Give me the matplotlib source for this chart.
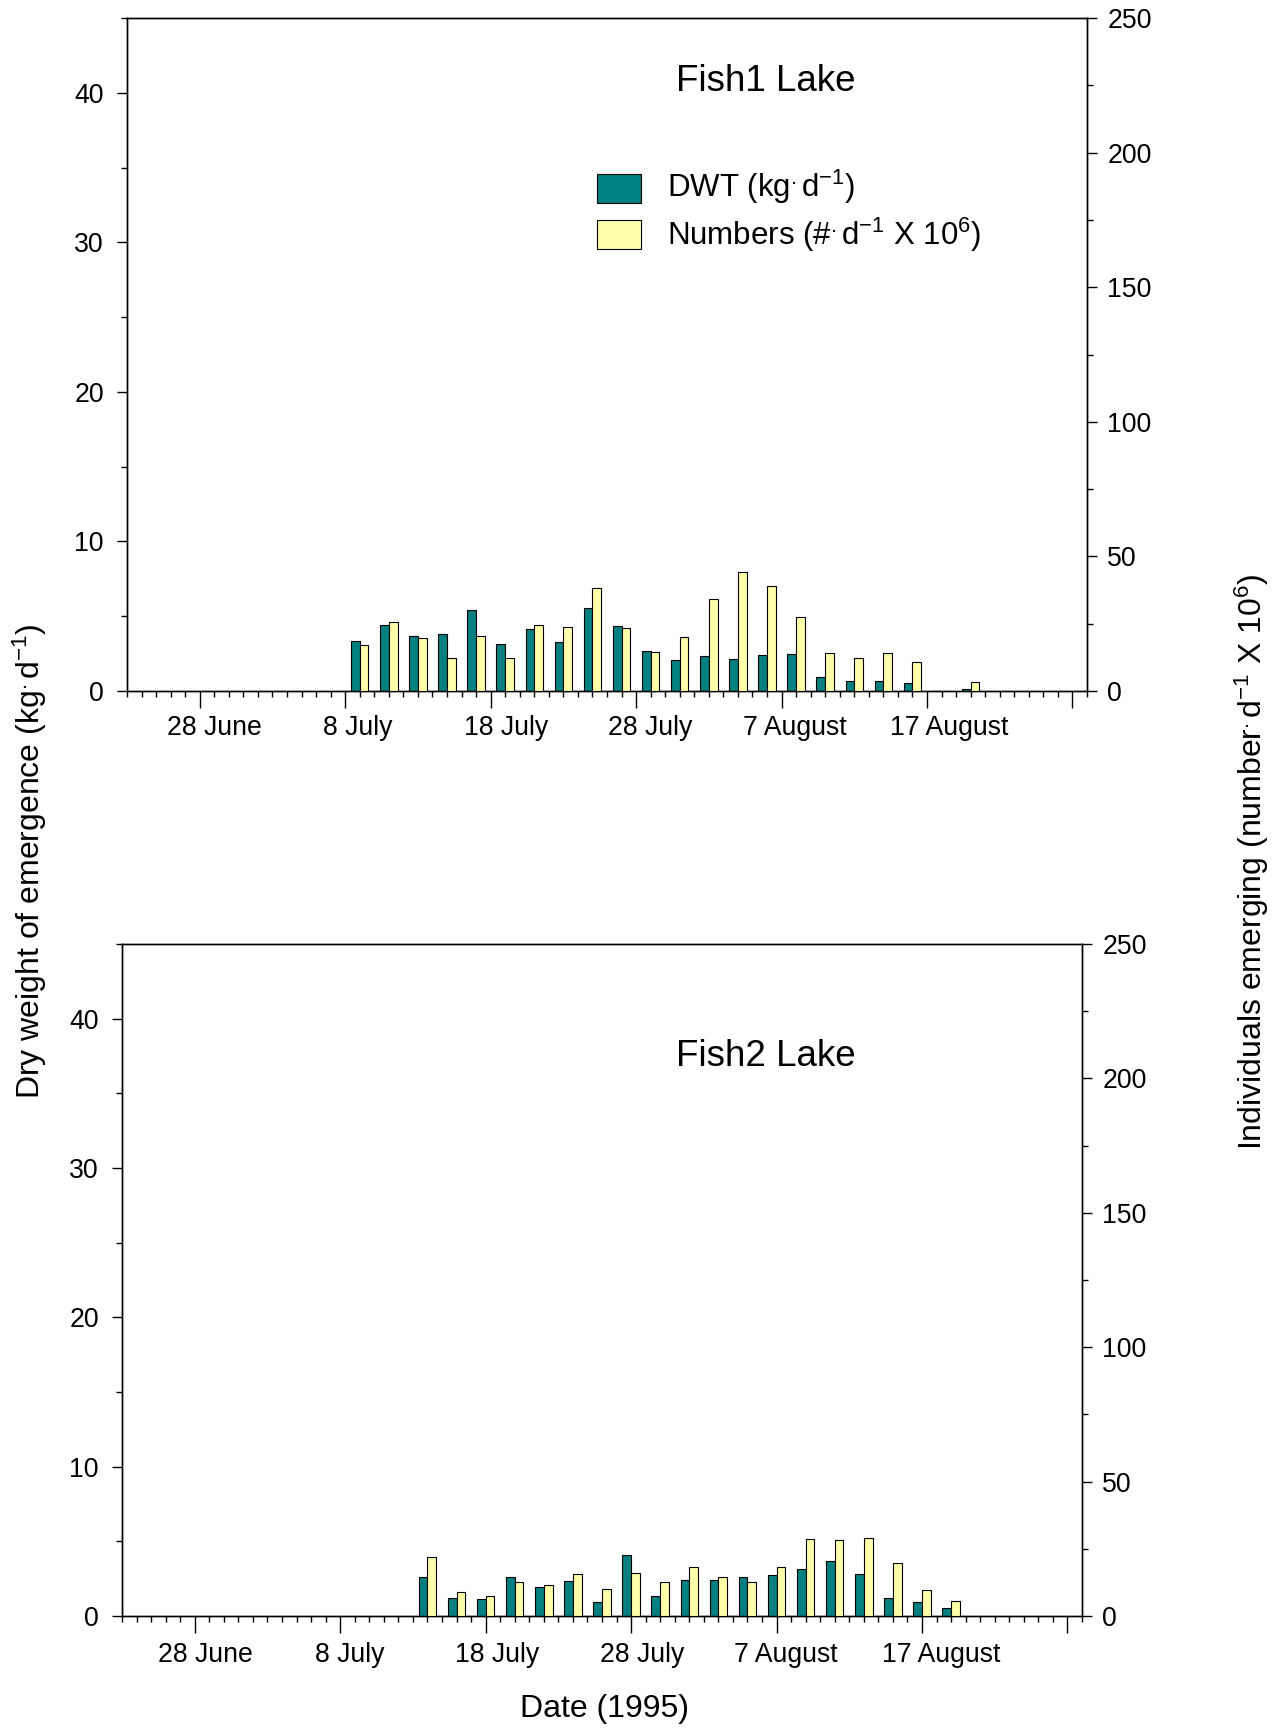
import numpy as np
import pandas as pd
import matplotlib
matplotlib.use("Agg")
import matplotlib.pyplot as plt
import matplotlib.dates as mdates
from matplotlib.ticker import FixedLocator, MultipleLocator
from matplotlib.transforms import ScaledTranslation
from matplotlib.patches import Rectangle

plt.rcParams["font.family"] = ["Liberation Sans", "DejaVu Sans"]
plt.rcParams["mathtext.fontset"] = "custom"
plt.rcParams["mathtext.rm"] = "Liberation Sans"
plt.rcParams["mathtext.it"] = "Liberation Sans:italic"
plt.rcParams["mathtext.bf"] = "Liberation Sans:bold"

# ---- data -------------------------------------------------------------
# Fish1 Lake: emergence traps emptied every second day
fish1_dates = ["1995-07-09", "1995-07-11", "1995-07-13", "1995-07-15", "1995-07-17",
               "1995-07-19", "1995-07-21", "1995-07-23", "1995-07-25", "1995-07-27",
               "1995-07-29", "1995-07-31", "1995-08-02", "1995-08-04", "1995-08-06",
               "1995-08-08", "1995-08-10", "1995-08-12", "1995-08-14", "1995-08-16",
               "1995-08-18", "1995-08-20"]
fish1_dwt = [3.34, 4.41, 3.66, 3.79, 5.40, 3.14, 4.15, 3.28, 5.57, 4.37, 2.68,
             2.10, 2.32, 2.14, 2.41, 2.45, 0.91, 0.65, 0.69, 0.51, 0.0, 0.13]
fish1_numbers = [17.1, 25.6, 19.6, 12.4, 20.3, 12.4, 24.6, 23.9, 38.1, 23.4, 14.6,
                 19.9, 34.1, 44.3, 39.1, 27.5, 14.0, 12.1, 14.0, 10.8, 0.0, 3.5]

# Fish2 Lake
fish2_dates = ["1995-07-14", "1995-07-16", "1995-07-18", "1995-07-20", "1995-07-22",
               "1995-07-24", "1995-07-26", "1995-07-28", "1995-07-30", "1995-08-01",
               "1995-08-03", "1995-08-05", "1995-08-07", "1995-08-09", "1995-08-11",
               "1995-08-13", "1995-08-15", "1995-08-17", "1995-08-19"]
fish2_dwt = [2.61, 1.23, 1.14, 2.61, 1.92, 2.34, 0.92, 4.11, 1.32, 2.41,
             2.41, 2.59, 2.72, 3.13, 3.68, 2.79, 1.21, 0.92, 0.51]
fish2_numbers = [21.8, 9.1, 7.3, 12.8, 11.4, 15.5, 9.9, 15.9, 12.8, 18.2,
                 14.4, 12.8, 18.4, 28.6, 28.1, 28.9, 19.7, 9.5, 5.7]

date_range = ["1995-06-23", "1995-08-28"]
tick_dates = ["1995-06-28", "1995-07-08", "1995-07-18", "1995-07-28",
              "1995-08-07", "1995-08-17", "1995-08-27"]
tick_labels = ["28 June", "8 July", "18 July", "28 July", "7 August", "17 August", ""]

DWT_COLOR = "#008080"
NUM_COLOR = "#FFFFAA"

DOT = r"$^{\mathrm{.}}$"
INV = r"$^{\mathrm{-1}}$"
SIX = r"$^{\mathrm{6}}$"

fig = plt.figure(figsize=(12.85, 17.28), dpi=100)
W, H = 1285, 1728
TICK_FS = 19.2


def to_num(ds):
    return mdates.date2num(pd.to_datetime(ds))


def panel(rect, dates, dwt, nums, title, title_xy, label_shifts_px, xpad):
    ax = fig.add_axes(rect)
    ax2 = ax.twinx()
    x = to_num(dates)
    bw = 0.6
    ax.bar(x - bw / 2, dwt, width=bw, color=DWT_COLOR, edgecolor="black",
           linewidth=0.8, zorder=3)
    ax2.bar(x + bw / 2, nums, width=bw, color=NUM_COLOR, edgecolor="black",
            linewidth=0.8, zorder=3)

    lo, hi = to_num(date_range)
    ax.set_xlim(lo, hi)
    ax.set_ylim(0, 45)
    ax2.set_ylim(0, 250)

    ax.xaxis.set_major_locator(FixedLocator(to_num(tick_dates)))
    ax.set_xticklabels(tick_labels)
    ax.xaxis.set_minor_locator(FixedLocator(np.arange(lo, hi + 0.5, 1.0)))
    ax.yaxis.set_major_locator(MultipleLocator(10))
    ax.yaxis.set_minor_locator(MultipleLocator(5))
    ax2.yaxis.set_major_locator(MultipleLocator(50))
    ax2.yaxis.set_minor_locator(MultipleLocator(25))

    ax.tick_params(axis="y", which="major", direction="out", length=7.2,
                   width=1.0, labelsize=TICK_FS, pad=9.5)
    ax.tick_params(axis="y", which="minor", direction="out", length=4.3, width=1.0)
    ax.tick_params(axis="x", which="major", direction="out", length=12,
                   width=1.0, labelsize=TICK_FS, pad=xpad)
    ax.tick_params(axis="x", which="minor", direction="out", length=4, width=1.0)
    ax2.tick_params(axis="y", which="major", direction="out", length=7.2,
                    width=1.0, labelsize=TICK_FS, pad=7.5)
    ax2.tick_params(axis="y", which="minor", direction="out", length=4.3, width=1.0)

    for a in (ax, ax2):
        for s in a.spines.values():
            s.set_linewidth(1.0)
            s.set_color("black")

    # date labels sit a little to the right of their ticks
    for lab, dx in zip(ax.get_xticklabels(), label_shifts_px):
        lab.set_transform(lab.get_transform()
                          + ScaledTranslation(dx / 100.0, 0, fig.dpi_scale_trans))

    ax.text(title_xy[0], title_xy[1], title, transform=ax.transAxes,
            ha="center", va="center", fontsize=26.5)
    return ax, ax2


ax_top, _ = panel([127 / W, 1 - 691 / H, 960 / W, 673 / H],
                  fish1_dates, fish1_dwt, fish1_numbers,
                  "Fish1 Lake", (0.6656, 0.9057),
                  [15, 13, 15, 14.5, 13, 22, 0], 5.0)
ax_bot, _ = panel([122 / W, 1 - 1616 / H, 960 / W, 672 / H],
                  fish2_dates, fish2_dwt, fish2_numbers,
                  "Fish2 Lake", (0.6708, 0.8328),
                  [11, 10, 11, 11, 9.5, 19, 0], 6.5)

# legend keys and text in the upper panel
legend_items = [(DWT_COLOR, "DWT (kg" + DOT + "d" + INV + ")", 0.7251, 0.7345),
                (NUM_COLOR, "Numbers (#" + DOT + "d" + INV + " X 10" + SIX + ")",
                 0.6568, 0.6627)]
for color, text, y0, ybase in legend_items:
    ax_top.add_patch(Rectangle((0.4896, y0), 0.0458, 0.0431, transform=ax_top.transAxes,
                               facecolor=color, edgecolor="black", linewidth=0.8,
                               clip_on=False, zorder=5))
    ax_top.text(0.5622, ybase, text, transform=ax_top.transAxes, ha="left",
                va="baseline", fontsize=22.5)

fig.text(0.0233, 0.5017, "Dry weight of emergence (kg" + DOT + "d" + INV + ")",
         rotation=90, ha="center", va="center", fontsize=23)
fig.text(0.9743, 0.5012,
         "Individuals emerging (number" + DOT + "d" + INV + " X 10" + SIX + ")",
         rotation=90, ha="center", va="center", fontsize=23)
fig.text(0.4708, 1 - 1709 / H, "Date (1995)", ha="center", va="center", fontsize=23)

fig.savefig("out.png", dpi=100)
